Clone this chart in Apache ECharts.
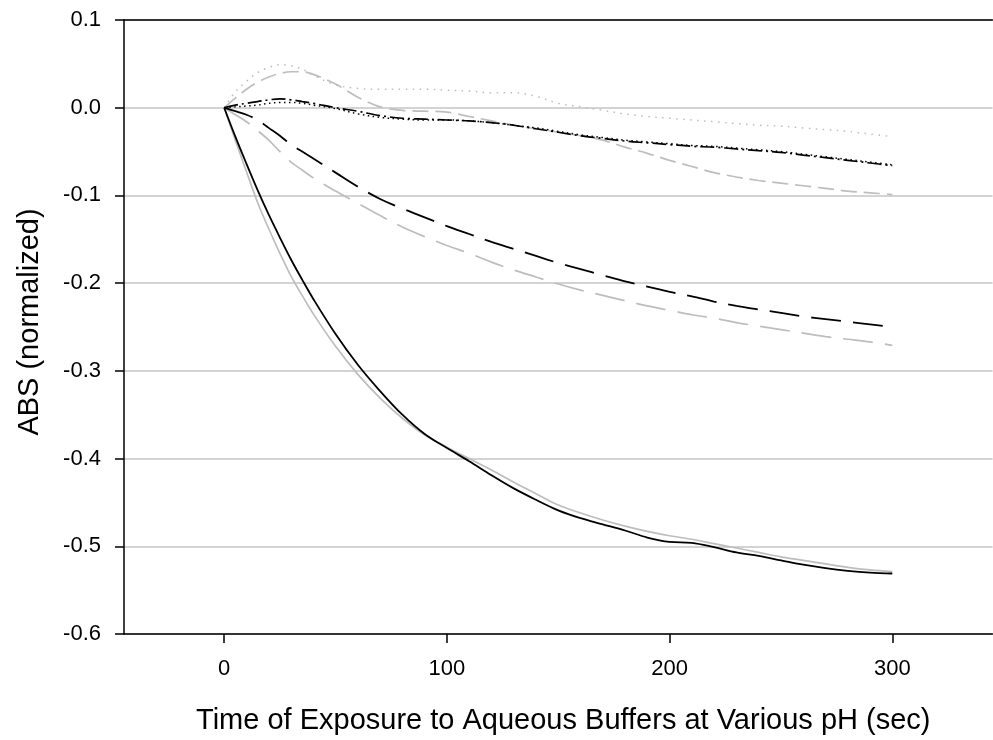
<!DOCTYPE html>
<html>
<head>
<meta charset="utf-8">
<script src="https://cdn.jsdelivr.net/npm/echarts@6/dist/echarts.min.js"></script>
<style>
  html, body { margin: 0; padding: 0; background: #fff; }
  #chart { width: 993px; height: 740px; }
</style>
</head>
<body>
<div id="chart"></div>
<script>
// Exposure time (sec)
var timeSec = [0, 5, 10, 15, 20, 25, 30, 35, 40, 50, 60, 70, 80, 90, 100, 110, 120, 130, 140, 150,
               160, 170, 180, 190, 200, 210, 220, 230, 240, 250, 260, 270, 280, 290, 300];

// Normalized absorbance traces
var solidBlack = [0, -0.033, -0.064, -0.094, -0.122, -0.148, -0.173, -0.196, -0.218, -0.258, -0.293, -0.323,
  -0.350, -0.372, -0.388, -0.403, -0.419, -0.434, -0.447, -0.459, -0.468, -0.475, -0.482, -0.490, -0.495,
  -0.496, -0.501, -0.507, -0.511, -0.516, -0.521, -0.525, -0.528, -0.530, -0.531];
var solidGray = [0, -0.037, -0.073, -0.108, -0.138, -0.166, -0.192, -0.214, -0.235, -0.272, -0.304, -0.331,
  -0.354, -0.373, -0.387, -0.400, -0.413, -0.427, -0.440, -0.453, -0.462, -0.470, -0.477, -0.483, -0.488,
  -0.492, -0.497, -0.502, -0.507, -0.512, -0.516, -0.520, -0.524, -0.527, -0.529];
var dashBlack = [0, -0.004, -0.008, -0.014, -0.023, -0.032, -0.042, -0.050, -0.058, -0.074, -0.090, -0.104,
  -0.115, -0.125, -0.135, -0.144, -0.153, -0.161, -0.169, -0.177, -0.184, -0.191, -0.198, -0.204, -0.210,
  -0.215, -0.221, -0.226, -0.230, -0.234, -0.238, -0.241, -0.244, -0.247, -0.250];
var dashGrayLow = [0, -0.008, -0.016, -0.026, -0.037, -0.050, -0.062, -0.071, -0.080, -0.095, -0.109, -0.123,
  -0.136, -0.147, -0.157, -0.166, -0.176, -0.185, -0.193, -0.201, -0.208, -0.214, -0.220, -0.226, -0.231,
  -0.236, -0.240, -0.245, -0.249, -0.253, -0.257, -0.261, -0.264, -0.267, -0.271];
var dotGray = [0, 0.018, 0.030, 0.040, 0.046, 0.049, 0.048, 0.044, 0.037, 0.026, 0.022, 0.021,
  0.021, 0.021, 0.020, 0.019, 0.017, 0.017, 0.013, 0.005, 0.001, -0.003, -0.007, -0.010, -0.012,
  -0.014, -0.016, -0.018, -0.020, -0.021, -0.023, -0.025, -0.027, -0.030, -0.033];
var dashGrayHigh = [0, 0.011, 0.021, 0.029, 0.035, 0.039, 0.041, 0.041, 0.038, 0.027, 0.012, 0.001,
  -0.003, -0.004, -0.005, -0.010, -0.015, -0.020, -0.024, -0.028, -0.032, -0.037, -0.045, -0.052, -0.060,
  -0.067, -0.074, -0.079, -0.083, -0.086, -0.089, -0.092, -0.095, -0.097, -0.099];
var dashDotBlack = [0, 0.003, 0.005, 0.007, 0.009, 0.010, 0.009, 0.007, 0.005, 0.000, -0.004, -0.009,
  -0.012, -0.013, -0.014, -0.015, -0.017, -0.020, -0.024, -0.028, -0.032, -0.035, -0.038, -0.040, -0.042,
  -0.044, -0.045, -0.047, -0.049, -0.051, -0.054, -0.057, -0.060, -0.063, -0.066];
var dotBlack = [0, 0.001, 0.002, 0.003, 0.005, 0.006, 0.006, 0.005, 0.003, -0.001, -0.007, -0.011,
  -0.013, -0.014, -0.014, -0.015, -0.017, -0.020, -0.023, -0.027, -0.031, -0.034, -0.037, -0.039, -0.041,
  -0.043, -0.044, -0.046, -0.048, -0.050, -0.053, -0.056, -0.059, -0.062, -0.065];

// Axis ticks
var xTicks = [0, 100, 200, 300];

var FONT = '"Liberation Sans", Arial, sans-serif';
var GRAY = '#bdbdbd';

function pairs(values) {
  return timeSec.map(function (t, i) { return [t, values[i]]; });
}

function trace(values, color, width, dash) {
  return {
    type: 'line',
    data: pairs(values),
    showSymbol: false,
    symbol: 'none',
    smooth: 0.35,
    silent: true,
    lineStyle: { color: color, width: width, type: dash, cap: 'butt' }
  };
}

var chart = echarts.init(document.getElementById('chart'), null, { renderer: 'canvas' });

chart.setOption({
  animation: false,
  backgroundColor: '#ffffff',
  grid: { left: 124, right: 0.5, top: 20, bottom: 104, containLabel: false },
  xAxis: [{
    type: 'value',
    position: 'bottom',
    min: -45,
    max: 345,
    name: 'Time of Exposure to Aqueous Buffers at Various pH (sec)',
    nameLocation: 'middle',
    nameGap: 72,
    nameTextStyle: { fontFamily: FONT, fontSize: 29, color: '#000', lineHeight: 29, padding: [0, 0, 0, 10] },
    axisLine: { show: true, onZero: false, lineStyle: { color: '#000', width: 1.5 } },
    axisTick: { show: true, length: 9, customValues: xTicks, lineStyle: { color: '#000', width: 1.5 } },
    axisLabel: { customValues: xTicks, margin: 24, fontFamily: FONT, fontSize: 22, color: '#000' },
    splitLine: { show: false }
  }, {
    type: 'value',
    position: 'top',
    min: -45,
    max: 345,
    axisLine: { show: true, onZero: false, lineStyle: { color: '#000', width: 1.5 } },
    axisTick: { show: false },
    axisLabel: { show: false },
    splitLine: { show: false }
  }],
  yAxis: {
    type: 'value',
    min: -0.6,
    max: 0.1,
    interval: 0.1,
    name: 'ABS (normalized)',
    nameLocation: 'middle',
    nameGap: 80,
    nameTextStyle: { fontFamily: FONT, fontSize: 29, color: '#000', lineHeight: 29, padding: [0, 0, 0, 10] },
    axisLine: { show: true, onZero: false, lineStyle: { color: '#000', width: 1.5 } },
    axisTick: { show: true, length: 9, lineStyle: { color: '#000', width: 1.5 } },
    axisLabel: {
      margin: 23,
      fontFamily: FONT,
      fontSize: 22,
      color: '#000',
      formatter: function (v) {
        var s = (Math.round(v * 10) / 10).toFixed(1);
        return s === '-0.0' ? '0.0' : s;
      }
    },
    splitLine: { show: true, lineStyle: { color: '#c4c4c4', width: 1.5 } }
  },
  series: [
    trace(dotGray, GRAY, 1.5, [1.5, 5.5]),
    trace(dashGrayHigh, GRAY, 1.7, [16, 7]),
    trace(dashGrayLow, GRAY, 1.7, [30, 12]),
    trace(solidGray, GRAY, 1.7, 'solid'),
    trace(dotBlack, '#000', 1.5, [1.5, 3.5]),
    trace(dashDotBlack, '#000', 1.7, [14, 4, 2, 4]),
    trace(dashBlack, '#000', 1.8, [30, 12]),
    trace(solidBlack, '#000', 1.8, 'solid')
  ]
});
</script>
</body>
</html>
